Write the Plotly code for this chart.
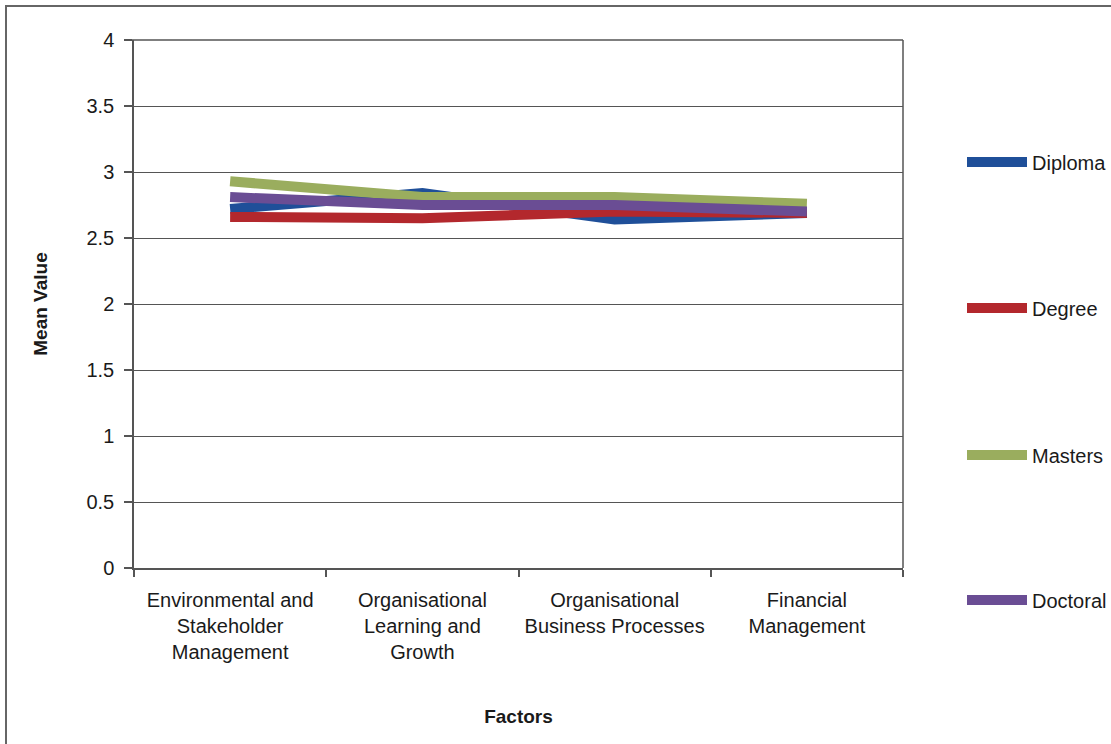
import plotly.graph_objects as go

categories = [
    "Environmental and<br>Stakeholder<br>Management",
    "Organisational<br>Learning and<br>Growth",
    "Organisational<br>Business Processes",
    "Financial<br>Management",
]
diploma = [2.72, 2.84, 2.64, 2.69]
degree = [2.66, 2.65, 2.70, 2.69]
masters = [2.93, 2.81, 2.81, 2.76]
doctoral = [2.81, 2.75, 2.75, 2.70]

series_names = ["Diploma", "Degree", "Masters", "Doctoral"]
series_values = [diploma, degree, masters, doctoral]
series_colors = ["#1f4f99", "#b3282d", "#9aad5e", "#6a4d94"]

y_ticks = [0, 0.5, 1, 1.5, 2, 2.5, 3, 3.5, 4]
y_tick_text = ["0", "0.5", "1", "1.5", "2", "2.5", "3", "3.5", "4"]

W, H = 1111, 744
ML, MR, MT, MB = 134, 208, 40, 176
PW, PH = W - ML - MR, H - MT - MB

FONT = "Liberation Sans, Arial, sans-serif"
TXT = "#1a1a1a"

fig = go.Figure()

legend_rows_px = [162, 308, 455, 600]
legend_keys = ["legend", "legend2", "legend3", "legend4"]

for name, vals, col, lk in zip(series_names, series_values, series_colors, legend_keys):
    fig.add_trace(go.Scatter(
        x=categories, y=vals, mode="lines", name=name,
        line=dict(color=col, width=10),
        legend=lk,
    ))

layout_legends = {}
for lk, py in zip(legend_keys, legend_rows_px):
    layout_legends[lk] = dict(
        x=(962 - ML) / PW, xanchor="left",
        y=(H - MB - py) / PH, yanchor="middle",
        bgcolor="rgba(0,0,0,0)",
        font=dict(family=FONT, size=20, color=TXT),
        itemwidth=60,
    )

fig.update_layout(
    width=W, height=H,
    margin=dict(l=ML, r=MR, t=MT, b=MB, autoexpand=False),
    paper_bgcolor="white", plot_bgcolor="white",
    showlegend=True,
    font=dict(family=FONT, size=20, color=TXT),
    xaxis=dict(
        type="category",
        tickson="boundaries",
        ticks="outside", ticklen=7, tickcolor="#555", tickwidth=1.5,
        showgrid=False,
        showline=True, linecolor="#555", linewidth=1.5,
        tickfont=dict(family=FONT, size=20, color=TXT),
        ticklabelstandoff=13,
        title=dict(text="<b>Factors</b>", font=dict(family=FONT, size=19, color=TXT), standoff=48),
        range=[-0.5, 3.5],
    ),
    yaxis=dict(
        range=[0, 4],
        tickvals=y_ticks, ticktext=y_tick_text,
        ticks="outside", ticklen=8, tickcolor="#555", tickwidth=1.5,
        showgrid=True, gridcolor="#555", gridwidth=1.2,
        showline=True, linecolor="#555", linewidth=1.5,
        zeroline=False,
        tickfont=dict(family=FONT, size=20, color=TXT),
        ticklabelstandoff=6,
        title=dict(text="<b>Mean Value</b>", font=dict(family=FONT, size=19, color=TXT), standoff=34),
    ),
    **layout_legends,
)

# top and right edges of the plot frame
fig.add_shape(type="line", xref="paper", yref="paper", x0=1, x1=1, y0=0, y1=1,
              line=dict(color="#555", width=1.5))
fig.add_shape(type="line", xref="paper", yref="paper", x0=-8 / PW, x1=1, y0=1, y1=1,
              line=dict(color="#555", width=1.5))
# outer chart border
fig.add_shape(type="rect", xref="paper", yref="paper",
              x0=(6 - ML) / PW, x1=(W + 10 - ML) / PW,
              y0=(H - MB - (H + 10)) / PH, y1=(H - MB - 6) / PH,
              line=dict(color="#666", width=2), layer="below")

fig.write_html("out.html")
